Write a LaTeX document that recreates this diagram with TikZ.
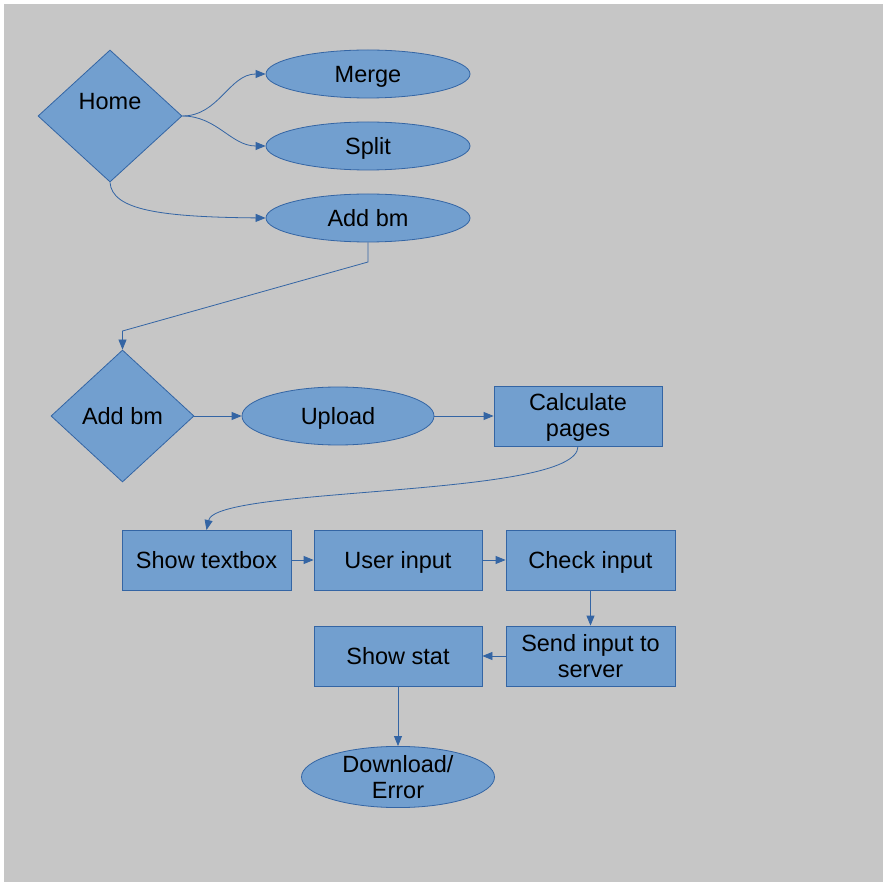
\documentclass[tikz,border=0pt]{standalone}
\usepackage{fontspec}
\setmainfont{Liberation Sans}
\usetikzlibrary{shapes.geometric,arrows.meta}
\definecolor{boxfill}{HTML}{729FCF}
\definecolor{boxline}{HTML}{3465A4}
\definecolor{bggray}{HTML}{C6C6C6}
\begin{document}
\begin{tikzpicture}[x=1pt,y=-1pt,
  every node/.style={font=\fontsize{23.5}{26}\selectfont, text=black, text height=16.8pt, text depth=0pt},
  twoline/.style={text height={}, text depth={}},
  diamondbox/.style={diamond, draw=boxline, fill=boxfill, line width=0.8pt, inner sep=0pt, minimum width=144pt, minimum height=132pt},
  ellbox/.style={ellipse, draw=boxline, fill=boxfill, line width=0.8pt, inner sep=0pt, minimum width=204pt, minimum height=48pt, align=center},
  rectbox/.style={rectangle, draw=boxline, fill=boxfill, line width=0.8pt, inner sep=0pt, minimum width=168pt, minimum height=60pt, align=center},
  conn/.style={draw=boxline, line width=0.8pt, -{Triangle[length=10pt,width=8pt]}}
]
\useasboundingbox (0,0) rectangle (887,885);
\fill[white] (0,0) rectangle (887,885);
\fill[bggray] (4,4) rectangle (883,882);

% top part
\node[diamondbox, label={[yshift=15pt]center:Home}] (home) at (110,116) {};
\node[ellbox] (merge) at (368,74) {Merge};
\node[ellbox] (split) at (368,146) {Split};
\node[ellbox] (addbm) at (368,218) {Add bm};

\draw[conn] (home.east) to[out=0,in=180] (merge.west);
\draw[conn] (home.east) to[out=0,in=180] (split.west);
\draw[conn] (home.south) .. controls (112,210) and (160,217) .. (addbm.west);

% second row
\node[diamondbox, minimum width=143pt] (addbm2) at (122.5,416) {Add bm};
\node[ellbox, minimum width=192pt, minimum height=58pt] (upload) at (338,416) {Upload};
\node[rectbox, twoline] (calc) at (578,416) {\rule{0pt}{19pt}Calculate\\pages};

\coordinate (b1) at (368,262);
\coordinate (b2) at (122.5,331);
\draw[conn] (addbm.south) -- (b1) -- (b2) -- (addbm2.north);

\draw[conn] (addbm2.east) -- (upload.west);
\draw[conn] (upload.east) -- (calc.west);

% third row
\node[rectbox, minimum width=169pt] (showtb) at (206.5,560) {Show textbox};
\node[rectbox] (userin) at (398,560) {User input};
\node[rectbox, minimum width=169pt] (check) at (590.5,560) {Check input};

\draw[conn] (calc.south) .. controls (578,498) and (216,486) .. (206.5,530);
\draw[conn] (showtb.east) -- (userin.west);
\draw[conn] (userin.east) -- (check.west);

% fourth row
\node[rectbox] (showstat) at (398,656) {Show stat};
\node[rectbox, twoline, minimum width=169pt] (send) at (590.5,656) {Send input to\\server};
\node[ellbox, twoline, minimum width=193pt, minimum height=60pt] (dl) at (398,777) {Download/\\Error};

\draw[conn] (check.south) -- (send.north);
\draw[conn] (send.west) -- (showstat.east);
\draw[conn] (showstat.south) -- (dl.north);
\end{tikzpicture}
\end{document}
